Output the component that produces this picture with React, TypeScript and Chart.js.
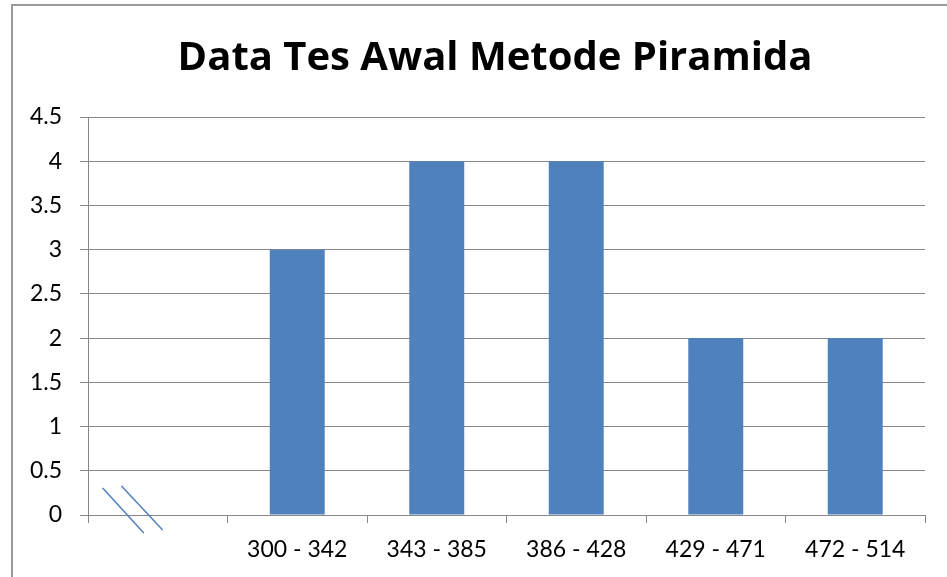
import React, { useEffect, useRef } from "react";
import { Chart, registerables } from "chart.js";

Chart.register(...registerables);

const categories: string[] = ["", "300 - 342", "343 - 385", "386 - 428", "429 - 471", "472 - 514"];
const counts: (number | null)[] = [null, 3, 4, 4, 2, 2];
const yTicks = { min: 0, max: 4.5, step: 0.5 };
const titleText = "Data Tes Awal Metode Piramida";

const FONT = "Lato, Calibri, 'Liberation Sans', sans-serif";
const TITLE_FONT = "'Open Sans', Calibri, sans-serif";
const GRID = "#878787";
const BAR = "#4f81bd";

const titleDraw = {
  id: "titleDraw",
  afterDraw(chart: any) {
    const ctx = chart.ctx;
    ctx.save();
    ctx.font = `bold 40px ${TITLE_FONT}`;
    ctx.fillStyle = "#000";
    ctx.textAlign = "center";
    ctx.textBaseline = "alphabetic";
    ctx.fillText(titleText, chart.width / 2 + 21.5, chart.chartArea.top - 47);
    ctx.restore();
  },
};

const breakMark = {
  id: "breakMark",
  afterDraw(chart: any) {
    const x = chart.scales.x;
    const y = chart.scales.y;
    const w = x.getPixelForValue(1) - x.getPixelForValue(0);
    const left = x.left;
    const bottom = y.bottom;
    const ctx = chart.ctx;
    ctx.save();
    ctx.strokeStyle = BAR;
    ctx.lineWidth = 1.5;
    const lines = [
      [0.105, -27, 0.4, 18],
      [0.24, -29, 0.535, 15],
    ];
    for (const [fx0, dy0, fx1, dy1] of lines) {
      ctx.beginPath();
      ctx.moveTo(left + fx0 * w, bottom + dy0);
      ctx.lineTo(left + fx1 * w, bottom + dy1);
      ctx.stroke();
    }
    ctx.restore();
  },
};

export default function App() {
  const ref = useRef<HTMLCanvasElement>(null);
  useEffect(() => {
    if (!ref.current) return;
    const chart = new Chart(ref.current, {
      type: "bar",
      data: {
        labels: categories,
        datasets: [
          {
            data: counts,
            backgroundColor: BAR,
            borderWidth: 0,
            categoryPercentage: 1,
            barPercentage: 0.394,
          },
        ],
      },
      plugins: [breakMark, titleDraw],
      options: {
        responsive: false,
        animation: false,
        layout: { padding: { left: 0, right: 22, top: 117, bottom: 0 } },
        plugins: {
          legend: { display: false },
          tooltip: { enabled: false },
          title: { display: false },
        },
        scales: {
          x: {
            grid: {
              offset: true,
              drawOnChartArea: false,
              drawTicks: true,
              tickLength: 8,
              color: GRID,
            },
            border: { color: GRID, width: 1 },
            ticks: {
              color: "#000",
              font: { family: FONT, size: 23 },
              padding: 13,
              maxRotation: 0,
              autoSkip: false,
            },
            afterFit(scale: any) {
              scale.height = 62;
            },
          },
          y: {
            min: yTicks.min,
            max: yTicks.max,
            grid: { color: GRID, tickLength: 8, drawTicks: true },
            border: { color: GRID, width: 1 },
            ticks: {
              stepSize: yTicks.step,
              color: "#000",
              font: { family: FONT, size: 23 },
              padding: 18,
              callback: (v: any) => String(Number(v)),
            },
            afterFit(scale: any) {
              scale.width = 88;
            },
          },
        },
      },
    });
    return () => chart.destroy();
  }, []);
  return (
    <div style={{ position: "fixed", left: 0, top: 0, width: 947, height: 577, background: "#fff", overflow: "hidden" }}>
      <div
        style={{
          position: "absolute",
          left: 11,
          top: 4,
          width: 1000,
          height: 1000,
          border: "2px solid #9a9a9a",
          boxSizing: "border-box",
        }}
      />
      <canvas ref={ref} width={947} height={577} style={{ position: "absolute", left: 0, top: 0 }} />
    </div>
  );
}
